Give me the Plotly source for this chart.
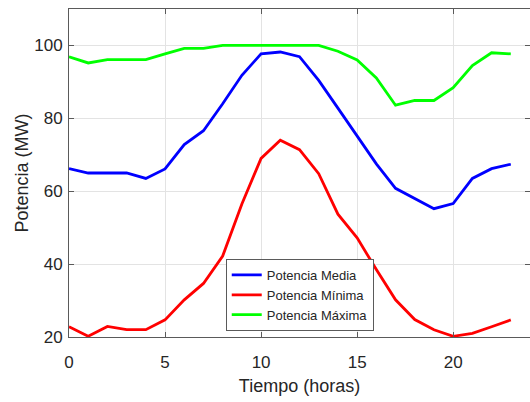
import plotly.graph_objects as go

horas = list(range(24))
potencia_media = [66.2, 65, 65, 65, 63.5, 66.1, 72.8, 76.6, 84, 91.8, 97.7, 98.2, 96.9, 90.4, 82.8, 75.3, 67.5, 60.8, 58, 55.2, 56.6, 63.5, 66.2, 67.4]
potencia_minima = [22.8, 20.2, 22.9, 22, 22, 24.7, 30.2, 34.7, 42.2, 56.5, 69, 74, 71.4, 64.8, 53.7, 47.2, 38.5, 30.2, 24.8, 22, 20.2, 21, 22.8, 24.7]
potencia_maxima = [96.9, 95.2, 96.1, 96.1, 96.1, 97.7, 99.2, 99.2, 100, 100, 100, 100, 100, 100, 98.4, 96, 91.1, 83.6, 84.9, 84.9, 88.4, 94.5, 98, 97.7]

x_ticks = [0, 5, 10, 15, 20]
y_ticks = [20, 40, 60, 80, 100]

series = [
    ("Potencia Media", potencia_media, "#0000FF"),
    ("Potencia Mínima", potencia_minima, "#FF0000"),
    ("Potencia Máxima", potencia_maxima, "#00FF00"),
]

fig = go.Figure()
for name, vals, col in series:
    fig.add_trace(go.Scatter(x=horas, y=vals, mode="lines", name=name,
                             line=dict(color=col, width=2.8)))

font_family = "Liberation Sans, Arial, sans-serif"
axis_common = dict(
    showgrid=True, gridcolor="#e3e3e3", gridwidth=1,
    showline=True, linecolor="#5a5a5a", linewidth=1,
    ticks="inside", ticklen=5, tickcolor="#5a5a5a",
    mirror="ticks", zeroline=False,
    tickfont=dict(family=font_family, size=17, color="#262626"),
)

fig.update_layout(
    width=530, height=402,
    margin=dict(l=69, r=0, t=9, b=65),
    paper_bgcolor="white", plot_bgcolor="white",
    font=dict(family=font_family, color="#262626"),
    xaxis=dict(range=[0, 24], tickvals=x_ticks, ticktext=[str(v) for v in x_ticks],
               ticklabelstandoff=10,
               title=dict(text="Tiempo (horas)", font=dict(size=18, family=font_family), standoff=7),
               **axis_common),
    yaxis=dict(range=[20, 110], tickvals=y_ticks, ticktext=[str(v) for v in y_ticks],
               ticklabelstandoff=2,
               title=dict(text="Potencia (MW)", font=dict(size=18, family=font_family), standoff=0),
               **axis_common),
    legend=dict(x=0.34, y=0.238, xanchor="left", yanchor="top",
                bgcolor="white", bordercolor="#5a5a5a", borderwidth=1,
                font=dict(family=font_family, size=13, color="#262626"),
                tracegroupgap=0),
    showlegend=True,
)

fig.write_html("out.html")
